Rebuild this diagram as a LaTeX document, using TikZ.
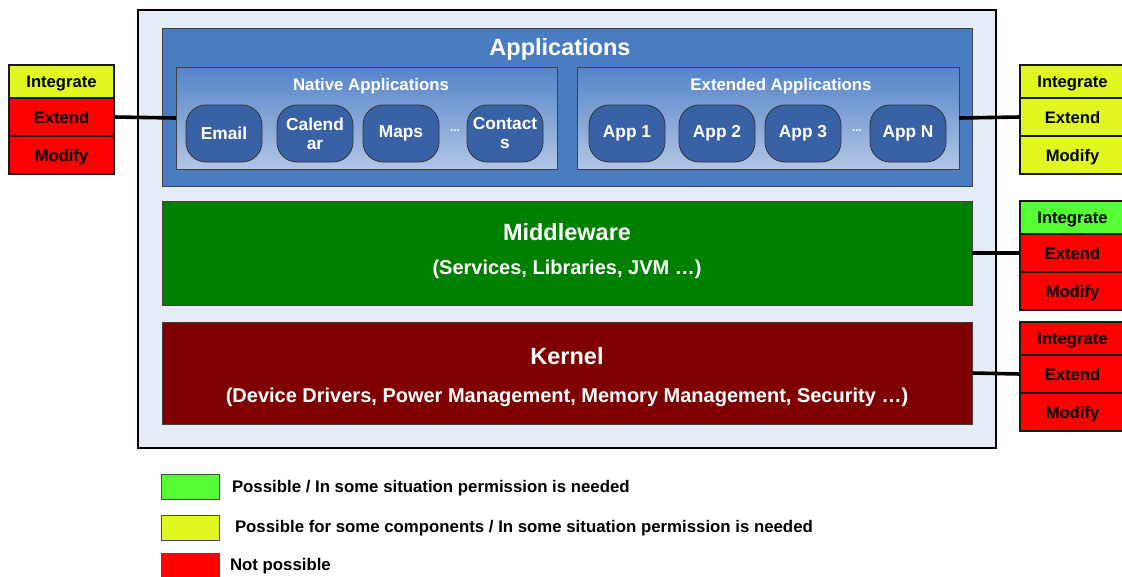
\documentclass[tikz,border=0pt]{standalone}
\usepackage{fontspec}
\setmainfont{Liberation Sans}
\begin{document}
\begin{tikzpicture}[x=1pt,y=-1pt,
  every node/.style={inner sep=0pt, outer sep=0pt, font=\bfseries},
  pill/.style={draw=black!80, line width=0.8pt, fill=pillblue, rounded corners=20pt,
    minimum width=76pt, minimum height=57pt, text=white, font=\bfseries\fontsize{17.3}{19}\selectfont,
    align=center, anchor=north west},
  panel/.style={draw=black!75, line width=0.8pt, anchor=north west},
  cell/.style={text height=12pt, text depth=0pt, draw=black!90, line width=1.1pt,
    minimum width=105pt, anchor=north west, font=\bfseries\fontsize{16.6}{17}\selectfont},
  layertitle/.style={text height=16.9pt, text depth=0pt, text=white, font=\bfseries\fontsize{23.5}{24}\selectfont},
  layersub/.style={text height=14.4pt, text depth=0pt, text=white, font=\bfseries\fontsize{20}{21}\selectfont},
  boxtitle/.style={text height=12.1pt, text depth=0pt, text=white, font=\bfseries\fontsize{16.8}{17}\selectfont},
  dots/.style={text=white, font=\bfseries\fontsize{12}{12}\selectfont},
  link/.style={line width=3.6pt, black},
  legbox/.style={draw=black!70, line width=0.8pt, minimum width=58pt, minimum height=25pt, anchor=north west},
  legtext/.style={text height=12.1pt, text depth=0pt, anchor=west, font=\bfseries\fontsize{16.8}{17}\selectfont}]
\definecolor{outerbg}{RGB}{230,236,246}
\definecolor{appblue}{RGB}{74,124,192}
\definecolor{pillblue}{RGB}{57,97,165}
\definecolor{gradtop}{RGB}{84,132,200}
\definecolor{gradbot}{RGB}{178,198,230}
\definecolor{okgreen}{RGB}{85,255,51}
\definecolor{partyellow}{RGB}{224,248,32}
\definecolor{nored}{RGB}{255,0,0}
\definecolor{mwgreen}{RGB}{0,128,0}
\definecolor{kred}{RGB}{127,0,0}

\useasboundingbox (0,0) rectangle (1122,576);
\fill[white] (0,0) rectangle (1122,576);

% outer platform frame
\node[draw=black, line width=2pt, fill=outerbg, anchor=north west,
  minimum width=858pt, minimum height=438pt] (frame) at (138,10) {};

% applications layer
\node[panel, fill=appblue, minimum width=810pt, minimum height=158pt] (apps) at (162,28) {};
\node[layertitle] (appstitle) at (560,47) {Applications};

\node[panel, top color=gradtop, bottom color=gradbot, minimum width=381pt, minimum height=102pt] (native) at (176,67) {};
\node[boxtitle] (nativetitle) at (371,84) {Native Applications};
\node[pill] (email) at (186,105) {Email};
\node[pill] (cal) at (277,105) {Calend\\ar};
\node[pill] (maps) at (363,105) {Maps};
\node[dots] (ndots) at (455,131) {...};
\node[pill] (contacts) at (467,105) {Contact\\s};

\node[panel, top color=gradtop, bottom color=gradbot, minimum width=382pt, minimum height=102pt] (extended) at (577,67) {};
\node[boxtitle] (exttitle) at (781,84) {Extended Applications};
\node[pill] (app1) at (589,105) {App 1};
\node[pill] (app2) at (679,105) {App 2};
\node[pill] (app3) at (765,105) {App 3};
\node[dots] (edots) at (857,131) {...};
\node[pill] (appn) at (870,105) {App N};

% middleware layer
\node[panel, fill=mwgreen, minimum width=810pt, minimum height=104pt] (mw) at (162,201) {};
\node[layertitle] (mwtitle) at (567,232) {Middleware};
\node[layersub] (mwsub) at (567,267) {(Services, Libraries, JVM …)};

% kernel layer
\node[panel, fill=kred, minimum width=810pt, minimum height=102pt] (kernel) at (162,322) {};
\node[layertitle] (ktitle) at (567,356) {Kernel};
\node[layersub] (ksub) at (567,395) {(Device Drivers, Power Management, Memory Management, Security …)};

% permission tables
\node[cell, fill=partyellow, minimum height=33pt] (nInt) at (9,65) {Integrate};
\node[cell, fill=nored, minimum height=38pt] (nExt) at (9,98) {Extend};
\node[cell, fill=nored, minimum height=38pt] (nMod) at (9,136) {Modify};

\node[cell, fill=partyellow, minimum height=33pt] (eInt) at (1020,65) {Integrate};
\node[cell, fill=partyellow, minimum height=38pt] (eExt) at (1020,98) {Extend};
\node[cell, fill=partyellow, minimum height=38pt] (eMod) at (1020,136) {Modify};

\node[cell, fill=okgreen, minimum height=33pt] (mInt) at (1020,201) {Integrate};
\node[cell, fill=nored, minimum height=38pt] (mExt) at (1020,234) {Extend};
\node[cell, fill=nored, minimum height=38pt] (mMod) at (1020,272) {Modify};

\node[cell, fill=nored, minimum height=33pt] (kInt) at (1020,322) {Integrate};
\node[cell, fill=nored, minimum height=38pt] (kExt) at (1020,355) {Extend};
\node[cell, fill=nored, minimum height=38pt] (kMod) at (1020,393) {Modify};

% connectors
\draw[link] (nExt.east) -- (native.west);
\draw[link] (extended.east) -- (eExt.west);
\draw[link] (mw.east) -- (mExt.west);
\draw[link] (kernel.east) -- (kExt.west);

% legend
\node[legbox, fill=okgreen] (lg) at (161,474) {};
\node[legtext] (lgt) at (232,486) {Possible / In some situation permission is needed};
\node[legbox, fill=partyellow] (ly) at (161,515) {};
\node[legtext] (lyt) at (235,526) {Possible for some components / In some situation permission is needed};
\node[legbox, fill=nored] (lr) at (161,553) {};
\node[legtext] (lrt) at (230,564) {Not possible};
\end{tikzpicture}
\end{document}
